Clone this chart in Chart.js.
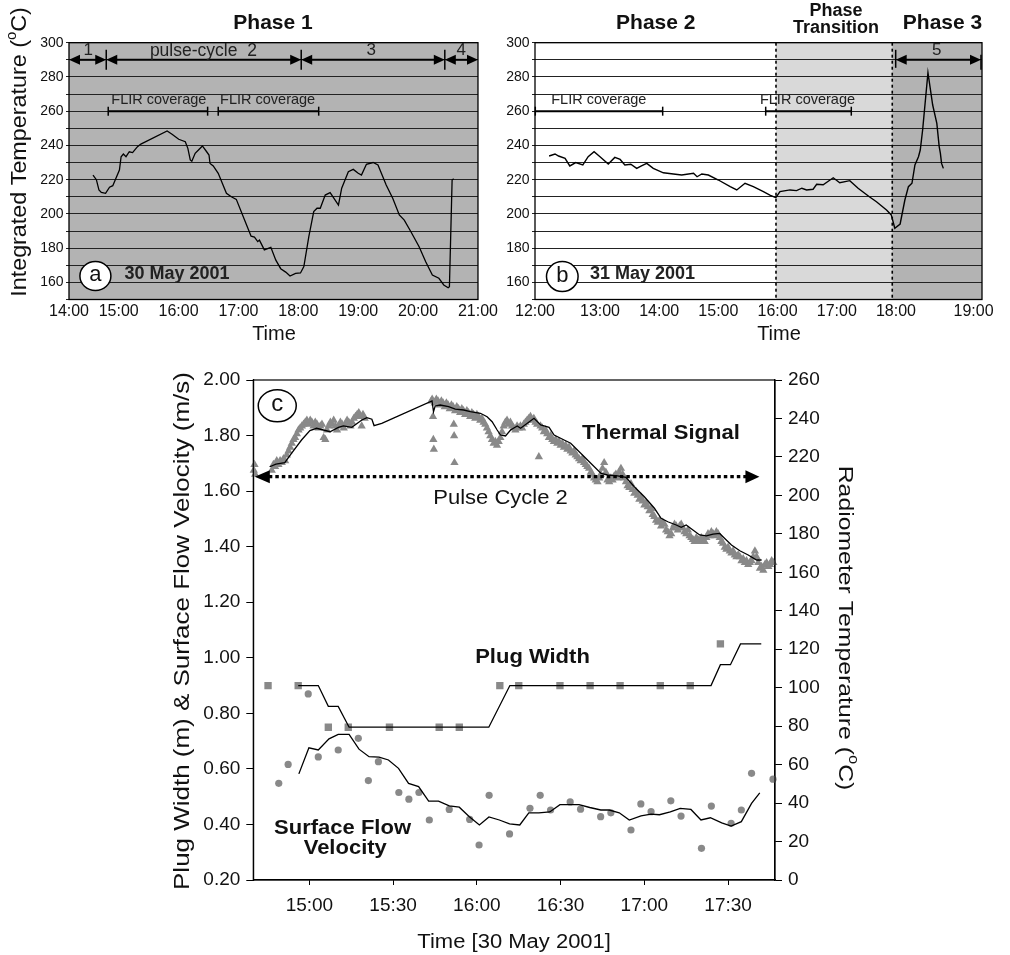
<!DOCTYPE html>
<html><head><meta charset="utf-8">
<script src="https://cdn.jsdelivr.net/npm/chart.js@4.4.1/dist/chart.umd.min.js"></script>
<style>
html,body{margin:0;padding:0;background:#fff;}
body{width:1010px;height:955px;position:relative;overflow:hidden;}
.box{position:absolute;}
</style></head><body>
<div class="box" style="left:0;top:0;width:500px;height:350px"><canvas id="ca" width="500" height="350"></canvas></div>
<div class="box" style="left:500px;top:0;width:510px;height:350px"><canvas id="cb" width="510" height="350"></canvas></div>
<div class="box" style="left:0;top:330px;width:1010px;height:625px"><canvas id="cc" width="1010" height="625"></canvas></div>
<script>
// ---------- DATA ----------
// Panel a (30 May 2001) integrated temperature
const aTime = [14.571,14.627,14.670,14.710,14.781,14.847,14.901,15.012,15.040,15.078,15.122,15.177,15.232,15.276,15.314,15.370,15.809,15.891,16.002,16.112,16.155,16.195,16.221,16.277,16.332,16.398,16.469,16.508,16.525,16.579,16.662,16.799,16.881,16.964,17.102,17.211,17.267,17.322,17.350,17.432,17.541,17.624,17.706,17.789,17.861,17.954,18.036,18.092,18.175,18.257,18.312,18.366,18.449,18.531,18.587,18.670,18.724,18.835,18.917,19.000,19.054,19.137,19.248,19.330,19.467,19.578,19.686,19.769,19.880,20.017,20.127,20.238,20.347,20.429,20.502,20.523,20.568,20.594];
const aTemp = [222.7,220.0,214.0,212.5,212.0,215.6,216.5,225.6,233.4,235.0,233.4,236.3,235.8,237.7,239.3,240.8,248.4,246.5,243.6,242.2,238.3,231.5,230.8,235.4,237.3,239.7,236.3,234.4,229.5,228.0,223.7,212.0,210.0,208.5,196.4,187.0,186.5,183.8,184.7,179.0,180.5,173.0,168.0,166.0,163.7,165.3,165.5,169.2,186.7,201.3,203.3,203.3,211.0,212.4,209.5,205.2,215.0,224.6,226.0,223.7,222.7,229.0,230.0,228.6,216.9,209.0,199.4,196.4,189.6,180.8,172.0,164.3,162.4,158.5,156.9,157.5,219.8,220.5];

// Panel b (31 May 2001)
const bTime = [12.14,12.24,12.30,12.41,12.49,12.59,12.71,12.80,12.90,13.00,13.14,13.25,13.34,13.42,13.52,13.62,13.70,13.79,13.90,14.07,14.24,14.38,14.58,14.64,14.72,14.83,15.00,15.20,15.31,15.45,15.59,15.76,15.87,15.97,16.04,16.21,16.32,16.41,16.49,16.60,16.66,16.77,16.94,17.05,17.22,17.36,17.55,17.67,17.84,17.92,17.98,18.07,18.15,18.21,18.27,18.32,18.38,18.41,18.45,18.54,18.62,18.69,18.73,18.75,18.77,18.80];
const bTemp = [233.8,235.0,233.8,232.5,228.0,230.0,228.6,233.4,236.3,233.4,229.1,233.0,231.8,228.6,229.0,226.6,228.0,229.5,226.6,224.0,223.3,222.7,223.7,221.7,223.3,222.7,219.8,215.9,214.0,217.9,215.9,213.0,211.0,209.5,213.0,214.0,213.6,215.0,214.0,214.4,217.3,217.0,221.1,218.2,219.4,215.0,210.0,207.1,202.3,199.4,191.6,194.1,208.1,215.9,217.9,228.6,233.4,237.3,249.0,282.5,263.6,252.9,239.3,235.4,229.5,226.6];

// Panel c: thermal signal (radiometer temperature, points)
const cThermTime = [14.668,14.672,14.676,14.775,14.785,14.795,14.805,14.815,14.825,14.835,14.845,14.855,14.865,14.875,14.885,14.895,14.905,14.915,14.925,14.935,14.945,14.955,14.965,14.975,14.985,14.995,15.005,15.015,15.025,15.035,15.045,15.055,15.065,15.075,15.085,15.095,15.105,15.115,15.125,15.135,15.145,15.155,15.165,15.175,15.185,15.195,15.205,15.215,15.225,15.235,15.245,15.255,15.265,15.275,15.285,15.295,15.305,15.312,15.320,15.330,
15.728,15.733,15.738,15.740,15.743,15.748,15.758,15.768,15.778,15.788,15.798,15.808,15.818,15.828,15.838,15.848,15.858,15.862,15.864,15.866,15.870,15.880,15.890,15.900,15.910,15.920,15.930,15.940,15.950,15.960,15.970,15.980,15.990,16.000,16.010,16.020,16.030,16.040,16.050,16.060,16.070,16.080,16.090,16.100,16.110,16.120,16.130,16.140,16.150,16.160,16.170,16.180,16.190,16.200,16.210,16.220,16.230,16.240,16.250,16.260,16.270,16.280,16.290,16.300,16.310,16.320,16.330,16.340,16.350,16.360,16.370,16.380,16.390,16.400,16.410,16.420,16.430,16.440,16.450,16.460,16.470,16.480,16.490,16.500,16.510,16.520,16.530,16.540,16.550,16.560,16.570,16.580,16.590,16.600,16.610,16.620,16.630,16.640,16.650,16.660,16.670,16.680,16.690,16.700,16.710,16.720,16.730,16.740,16.750,16.760,16.770,16.780,16.790,16.800,16.810,16.820,16.830,16.840,16.850,16.860,16.870,16.880,16.890,16.900,16.910,16.920,16.930,16.940,16.950,16.960,16.970,16.980,16.990,17.000,17.010,17.020,17.030,17.040,17.050,17.060,17.070,17.080,17.090,17.100,17.110,17.120,17.130,17.140,17.150,17.160,17.170,17.180,17.190,17.200,17.210,17.220,17.230,17.240,17.250,17.260,17.270,17.280,17.290,17.300,17.310,17.320,17.330,17.340,17.350,17.360,17.370,17.380,17.390,17.400,17.410,17.420,17.430,17.440,17.450,17.460,17.470,17.480,17.490,17.500,17.510,17.520,17.530,17.540,17.550,17.560,17.570,17.580,17.590,17.600,17.610,17.620,17.630,17.640,17.650,17.660,17.670,17.680,17.690,17.700,17.710,17.720,17.730,17.740,17.750,17.760,17.770];
const cThermTemp = [213,216,211,213,216,215,218,216,218,217,219,218,221,223,225,227,229,230,232,234,235,236,237,238,239,237,239,238,236,238,237,235,236,237,230,229,234,236,238,237,239,236,234,236,238,237,235,237,239,238,236,238,240,241,242,243,241,236,242,240,
249,250,241,229,224,248,250,249,247,249,248,246,248,247,245,247,246,237,231,217,244,246,245,243,245,244,242,244,243,241,243,242,240,242,241,239,240,238,237,235,233,231,229,227,228,226,228,230,233,236,238,239,237,238,236,235,234,236,235,236,235,237,238,239,240,241,239,240,238,237,220,236,235,233,234,232,230,231,229,228,229,227,228,226,227,225,226,224,225,223,222,223,221,220,219,218,219,217,216,215,214,212,211,209,208,207,209,211,214,217,212,208,207,209,208,210,211,209,212,214,211,209,207,205,204,206,203,201,202,200,198,199,197,195,196,194,192,193,190,189,187,186,187,184,186,185,182,181,179,180,183,185,184,182,184,185,183,181,180,182,179,178,177,176,178,177,176,178,177,176,178,180,179,181,180,179,181,180,178,176,175,173,172,173,171,170,171,169,168,169,168,166,167,165,166,164,165,166,168,171,168,165,162,163,161,164,165,163,164,166,165];
// thermal signal smoothed line
const cThermLineTime = [14.763,14.800,14.853,14.893,14.953,15.003,15.043,15.083,15.123,15.173,15.203,15.253,15.313,15.343,15.373,15.386,15.432,15.732,15.741,15.751,15.781,15.831,15.871,15.921,15.961,16.021,16.061,16.091,16.121,16.141,16.171,16.201,16.241,16.261,16.341,16.381,16.431,16.461,16.521,16.560,16.620,16.680,16.740,16.780,16.840,16.890,16.940,17.000,17.060,17.100,17.140,17.190,17.220,17.250,17.290,17.330,17.370,17.410,17.450,17.480,17.520,17.570,17.620,17.670,17.700];
const cThermLineTemp = [214.9,216.3,217.0,221.9,228.8,233.7,234.9,234.0,233.1,235.4,236.1,235.4,239.2,240.4,239.6,236.3,237.5,249.1,243.5,246.5,247.0,246.1,244.8,244.4,243.5,242.7,240.9,238.3,234.0,231.4,230.9,234.0,236.1,234.9,240.1,236.6,235.4,231.4,228.8,227.1,221.9,216.7,211.5,210.6,210.1,209.4,204.5,199.3,193.3,188.1,186.3,184.6,183.4,184.6,182.0,179.4,178.9,179.9,180.2,177.6,174.2,171.2,169.0,166.4,166.4];
// plug width
const cPlugTime = [14.753,14.933,15.113,15.232,15.478,15.775,15.895,16.137,16.250,16.496,16.676,16.855,17.095,17.274,17.454];
const cPlugWidth = [0.90,0.90,0.75,0.75,0.75,0.75,0.75,0.90,0.90,0.90,0.90,0.90,0.90,0.90,1.05];
const cPlugLineTime = [14.933,15.053,15.113,15.172,15.237,16.071,16.197,17.398,17.454,17.514,17.574,17.698];
const cPlugLineWidth = [0.90,0.90,0.825,0.825,0.75,0.75,0.90,0.90,0.975,0.975,1.05,1.05];
// surface flow velocity
const cVelTime = [14.817,14.873,14.993,15.053,15.172,15.292,15.352,15.412,15.534,15.594,15.654,15.716,15.835,15.957,16.013,16.073,16.195,16.317,16.378,16.440,16.557,16.619,16.739,16.800,16.920,16.979,17.040,17.158,17.219,17.341,17.400,17.518,17.579,17.640,17.768];
const cVel = [0.548,0.616,0.870,0.643,0.668,0.710,0.558,0.626,0.515,0.491,0.515,0.416,0.454,0.418,0.326,0.505,0.366,0.458,0.505,0.452,0.481,0.455,0.428,0.442,0.380,0.474,0.446,0.485,0.430,0.314,0.466,0.404,0.452,0.584,0.563];
const cVelLineTime = [14.937,14.997,15.053,15.117,15.172,15.237,15.296,15.356,15.416,15.472,15.532,15.592,15.652,15.712,15.771,15.835,15.895,15.955,16.015,16.072,16.134,16.195,16.256,16.310,16.370,16.435,16.496,16.610,16.674,16.740,16.790,16.850,16.910,16.980,17.040,17.090,17.155,17.214,17.278,17.338,17.394,17.462,17.518,17.579,17.640,17.689];
const cVelLine = [0.582,0.676,0.668,0.708,0.724,0.724,0.671,0.644,0.642,0.632,0.602,0.548,0.536,0.484,0.484,0.467,0.462,0.428,0.398,0.427,0.416,0.402,0.398,0.442,0.442,0.445,0.471,0.471,0.461,0.452,0.452,0.442,0.416,0.431,0.437,0.435,0.445,0.458,0.454,0.416,0.424,0.406,0.394,0.410,0.476,0.514];

// tick labels
const aTickPos = [14.17,15,16,17,18,19,20,21];
const aTickLabels = ['14:00','15:00','16:00','17:00','18:00','19:00','20:00','21:00'];
const bTickPos = [11.902,13,14,15,16,17,18,19.31];
const bTickLabels = ['12:00','13:00','14:00','15:00','16:00','17:00','18:00','19:00'];
const cTickPos = [15,15.5,16,16.5,17,17.5];
const cTickLabels = ['15:00','15:30','16:00','16:30','17:00','17:30'];

// ---------- helpers ----------
const F = "'Liberation Sans', Arial, Helvetica, sans-serif";
const fnt = (s,b)=> (b?'bold ':'')+s+'px '+F;
const pts = (xs,ys)=> xs.map((x,i)=>({x:x,y:ys[i]}));
function txt(ctx,s,x,y,size,o){o=o||{};ctx.save();ctx.font=fnt(size,o.bold);ctx.fillStyle=o.color||'#111';ctx.textAlign=o.align||'center';ctx.textBaseline='middle';ctx.translate(x,y);if(o.rot)ctx.rotate(o.rot);if(o.sx)ctx.scale(o.sx,1);ctx.fillText(s,0,0);ctx.restore();}
function rich(ctx,segs,x,y,rot,sx){ctx.save();ctx.translate(x,y);ctx.rotate(rot||0);ctx.scale(sx||1,1);let w=0;segs.forEach(s=>{ctx.font=fnt(s[1]);w+=ctx.measureText(s[0]).width;});let cx=-w/2;ctx.textBaseline='middle';ctx.textAlign='left';ctx.fillStyle='#111';segs.forEach(s=>{ctx.font=fnt(s[1]);ctx.fillText(s[0],cx,-(s[2]||0));cx+=ctx.measureText(s[0]).width;});ctx.restore();}
function head(ctx,x,y,dir,len,half){ctx.beginPath();ctx.moveTo(x,y);ctx.lineTo(x-dir*len,y-half);ctx.lineTo(x-dir*len,y+half);ctx.closePath();ctx.fill();}
function dbl(ctx,x1,x2,y,len,half,lw){ctx.lineWidth=lw;ctx.beginPath();ctx.moveTo(x1+len*0.6,y);ctx.lineTo(x2-len*0.6,y);ctx.stroke();head(ctx,x1,y,-1,len,half);head(ctx,x2,y,1,len,half);}
function vtick(ctx,x,y1,y2,lw){ctx.lineWidth=lw;ctx.beginPath();ctx.moveTo(x,y1);ctx.lineTo(x,y2);ctx.stroke();}
function bar(ctx,x1,x2,y){ctx.lineWidth=2;ctx.beginPath();ctx.moveTo(x1,y);ctx.lineTo(x2,y);ctx.stroke();vtick(ctx,x1,y-4.5,y+4.5,1.5);vtick(ctx,x2,y-4.5,y+4.5,1.5);}
function ell(ctx,x,y,rx,ry,s,size){ctx.save();ctx.beginPath();ctx.ellipse(x,y,rx,ry,0,0,Math.PI*2);ctx.fillStyle='#fff';ctx.fill();ctx.lineWidth=1.5;ctx.strokeStyle='#000';ctx.stroke();ctx.restore();txt(ctx,s,x,y-1,size);}

const tickFontAB = {family:F,size:14};
function abY(width){return {min:150,max:300,afterFit:s=>{s.width=width;},
  ticks:{stepSize:10,autoSkip:false,padding:2.5,color:'#111',font:tickFontAB,callback:v=>(v%20===0&&v>150)?String(v):''},
  grid:{color:'#222',lineWidth:1,drawTicks:true,tickLength:3},border:{display:false}};}
function abX(min,max,pos,labels){return {type:'linear',min:min,max:max,
  afterBuildTicks:s=>{s.ticks=pos.map(v=>({value:v}));},afterFit:s=>{s.height=50.5;},
  ticks:{autoSkip:false,maxRotation:0,padding:2,color:'#111',font:{family:F,size:16},callback:(v,i)=>labels[i]},
  grid:{display:false,drawTicks:false,tickLength:0},border:{display:false}};}
const baseOpts = {responsive:false,animation:false,events:[],plugins:{legend:{display:false},tooltip:{enabled:false}}};

// ---------- Panel a ----------
const plugA = {id:'plugA',
 beforeDraw(ch){const {ctx,chartArea:a}=ch;ctx.save();ctx.fillStyle='#b3b3b3';ctx.fillRect(a.left,a.top,a.right-a.left,a.bottom-a.top);ctx.restore();},
 afterDraw(ch){const {ctx,chartArea:a,scales:{x,y}}=ch;const X=v=>x.getPixelForValue(v),Y=v=>y.getPixelForValue(v);
  ctx.save();ctx.strokeStyle='#000';ctx.fillStyle='#000';
  ctx.lineWidth=1.3;ctx.strokeRect(a.left,a.top,a.right-a.left,a.bottom-a.top);
  const seg=[14.17,14.792,18.048,20.446,21.0];
  for(let i=0;i<seg.length-1;i++) dbl(ctx,X(seg[i]),X(seg[i+1]),Y(290),11,5,2);
  [14.792,18.048,20.446].forEach(t=>vtick(ctx,X(t),Y(290)-10,Y(290)+10,1.5));
  txt(ctx,'1',X(14.49),Y(295.3),17,{color:'#222'});
  txt(ctx,'pulse-cycle  2',X(16.414),Y(295.3),17.5,{color:'#222'});
  txt(ctx,'3',X(19.219),Y(295.3),17,{color:'#222'});
  txt(ctx,'4',X(20.72),Y(295.3),17,{color:'#222'});
  bar(ctx,X(14.825),X(16.485),Y(260));bar(ctx,X(16.662),X(18.34),Y(260));
  txt(ctx,'FLIR coverage',X(15.67),Y(266.6),14.5,{color:'#222'});
  txt(ctx,'FLIR coverage',X(17.487),Y(266.6),14.5,{color:'#222'});
  ell(ctx,X(14.611),Y(163.7),15.5,14.5,'a',22);
  txt(ctx,'30 May 2001',X(15.096),Y(164.9),18,{bold:true,align:'left',color:'#222'});
  txt(ctx,'Phase 1',273,23,21,{bold:true});
  rich(ctx,[['Integrated Temperature (',22],['o',14,8],['C)',22]],20,152,-Math.PI/2,1.06);
  txt(ctx,'Time',274,334,20);
  ctx.restore();}};
new Chart(document.getElementById('ca'),{type:'scatter',
 data:{datasets:[{data:pts(aTime,aTemp),showLine:true,borderColor:'#000',borderWidth:1.3,pointRadius:0,tension:0}]},
 options:Object.assign({},baseOpts,{layout:{padding:{top:42.7,right:17,left:0,bottom:0}},
  scales:{x:abX(14.17,21,aTickPos,aTickLabels),y:abY(69)}}),plugins:[plugA]});

// ---------- Panel b ----------
const plugB = {id:'plugB',
 beforeDraw(ch){const {ctx,chartArea:a,scales:{x}}=ch;const X=v=>x.getPixelForValue(v);ctx.save();
  ctx.fillStyle='#d9d9d9';ctx.fillRect(X(15.973),a.top,X(17.937)-X(15.973),a.bottom-a.top);
  ctx.fillStyle='#b3b3b3';ctx.fillRect(X(17.937),a.top,a.right-X(17.937),a.bottom-a.top);ctx.restore();},
 afterDraw(ch){const {ctx,chartArea:a,scales:{x,y}}=ch;const X=v=>x.getPixelForValue(v),Y=v=>y.getPixelForValue(v);
  ctx.save();ctx.strokeStyle='#000';ctx.fillStyle='#000';
  ctx.lineWidth=1.3;ctx.strokeRect(a.left,a.top,a.right-a.left,a.bottom-a.top);
  ctx.setLineDash([3,3]);ctx.lineWidth=1.6;
  [15.973,17.937].forEach(t=>{ctx.beginPath();ctx.moveTo(X(t),a.top);ctx.lineTo(X(t),a.bottom);ctx.stroke();});
  ctx.setLineDash([]);
  bar(ctx,X(11.907),X(14.059),Y(260));bar(ctx,X(15.799),X(17.245),Y(260));
  txt(ctx,'FLIR coverage',X(12.98),Y(266.6),14.5,{color:'#222'});
  txt(ctx,'FLIR coverage',X(16.505),Y(266.6),14.5,{color:'#222'});
  dbl(ctx,X(17.995),X(19.453)-1,Y(290),11,5,2);
  vtick(ctx,X(17.995),Y(290)-10,Y(290)+8,1.5);vtick(ctx,X(19.453)-1,Y(290)-5,Y(290)+10,1.5);
  txt(ctx,'5',X(18.687),Y(295.3),17,{color:'#222'});
  ell(ctx,X(12.363),Y(163.4),15.8,15,'b',22);
  txt(ctx,'31 May 2001',X(12.831),Y(164.9),18,{bold:true,align:'left',color:'#222'});
  txt(ctx,'Phase 2',155.8,23,21,{bold:true});
  txt(ctx,'Phase',336,11,18,{bold:true});
  txt(ctx,'Transition',336,28.5,18,{bold:true});
  txt(ctx,'Phase 3',442.5,23,21,{bold:true});
  txt(ctx,'Time',279,334,20);
  ctx.restore();}};
new Chart(document.getElementById('cb'),{type:'scatter',
 data:{datasets:[{data:pts(bTime,bTemp),showLine:true,borderColor:'#000',borderWidth:1.4,pointRadius:0,tension:0}]},
 options:Object.assign({},baseOpts,{layout:{padding:{top:42.7,right:28,left:0,bottom:0}},
  scales:{x:abX(11.902,19.453,bTickPos,bTickLabels),y:abY(35)}}),plugins:[plugB]});

// ---------- Panel c ----------
const plugC = {id:'plugC',
 afterDraw(ch){const {ctx,chartArea:a,scales:{x,y}}=ch;const X=v=>x.getPixelForValue(v),Y=v=>y.getPixelForValue(v);
  ctx.save();ctx.strokeStyle='#000';ctx.fillStyle='#000';
  ctx.lineWidth=1.2;ctx.strokeRect(a.left,a.top,a.right-a.left,a.bottom-a.top);
  // pulse cycle arrow
  const yA=Y(1.652),x1=X(14.674),x2=X(17.687);
  ctx.lineWidth=3.2;ctx.setLineDash([3.5,3]);ctx.beginPath();ctx.moveTo(x1+14,yA);ctx.lineTo(x2-13,yA);ctx.stroke();ctx.setLineDash([]);
  head(ctx,x1,yA,-1,15,6.5);head(ctx,x2,yA,1,14,6.5);
  txt(ctx,'Pulse Cycle 2',X(16.141),Y(1.572),20,{sx:1.1});
  txt(ctx,'Thermal Signal',X(17.099),Y(1.806),20,{bold:true,sx:1.1});
  txt(ctx,'Plug Width',X(16.332),Y(1.001),20,{bold:true,sx:1.1});
  txt(ctx,'Surface Flow',X(15.198),Y(0.385),20,{bold:true,sx:1.1});
  txt(ctx,'Velocity',X(15.214),Y(0.313),20,{bold:true,sx:1.1});
  ell(ctx,X(14.808),Y(1.907),19,16,'c',24);
  rich(ctx,[['Plug Width (m) & Surface Flow Velocity (m/s)',22]],183.3,(a.top+a.bottom)/2+1,-Math.PI/2,1.18);
  rich(ctx,[['Radiometer Temperature (',21],['o',14,8],['C)',21]],845,(a.top+a.bottom)/2-2,Math.PI/2,1.18);
  txt(ctx,'Time [30 May 2001]',(a.left+a.right)/2,612,20,{sx:1.1});
  ctx.restore();}};
const gray='#898989';
new Chart(document.getElementById('cc'),{type:'scatter',
 data:{datasets:[
  {data:pts(cThermLineTime,cThermLineTemp),yAxisID:'y2',showLine:true,borderColor:'#000',borderWidth:1.3,pointRadius:0,tension:0},
  {data:pts(cPlugLineTime,cPlugLineWidth),yAxisID:'y',showLine:true,borderColor:'#000',borderWidth:1.3,pointRadius:0,tension:0},
  {data:pts(cVelLineTime,cVelLine),yAxisID:'y',showLine:true,borderColor:'#000',borderWidth:1.3,pointRadius:0,tension:0},
  {data:pts(cThermTime,cThermTemp),yAxisID:'y2',showLine:false,pointStyle:'triangle',pointRadius:4.8,backgroundColor:gray,borderColor:gray,borderWidth:0,clip:false},
  {data:pts(cPlugTime,cPlugWidth),yAxisID:'y',showLine:false,pointStyle:'rect',pointRadius:5.2,backgroundColor:gray,borderColor:gray,borderWidth:0},
  {data:pts(cVelTime,cVel),yAxisID:'y',showLine:false,pointStyle:'circle',pointRadius:3.6,backgroundColor:gray,borderColor:gray,borderWidth:0,clip:false}
 ]},
 options:Object.assign({},baseOpts,{layout:{padding:{top:50,right:0,left:0,bottom:0}},
  scales:{
   x:{type:'linear',min:14.665,max:17.78,afterBuildTicks:s=>{s.ticks=cTickPos.map(v=>({value:v}));},afterFit:s=>{s.height=75;},
      ticks:{autoSkip:false,maxRotation:0,padding:9,color:'#111',font:{family:F,size:19},callback:(v,i)=>cTickLabels[i]},
      grid:{drawOnChartArea:false,drawTicks:true,tickLength:5,color:'#000'},border:{display:true,color:'#000',width:1.2}},
   y:{position:'left',min:0.2,max:2.0,afterFit:s=>{s.width=253.3;},
      ticks:{stepSize:0.2,autoSkip:false,padding:6,color:'#111',font:{family:F,size:19},callback:v=>Number(v).toFixed(2)},
      grid:{drawOnChartArea:false,drawTicks:true,tickLength:7,color:'#000'},border:{display:true,color:'#000',width:1.2}},
   y2:{position:'right',min:0,max:260,afterFit:s=>{s.width=235;},
      ticks:{stepSize:20,autoSkip:false,padding:6,color:'#111',font:{family:F,size:19}},
      grid:{drawOnChartArea:false,drawTicks:true,tickLength:7,color:'#000'},border:{display:true,color:'#000',width:1.2}}
  }}),plugins:[plugC]});
</script>
</body></html>
